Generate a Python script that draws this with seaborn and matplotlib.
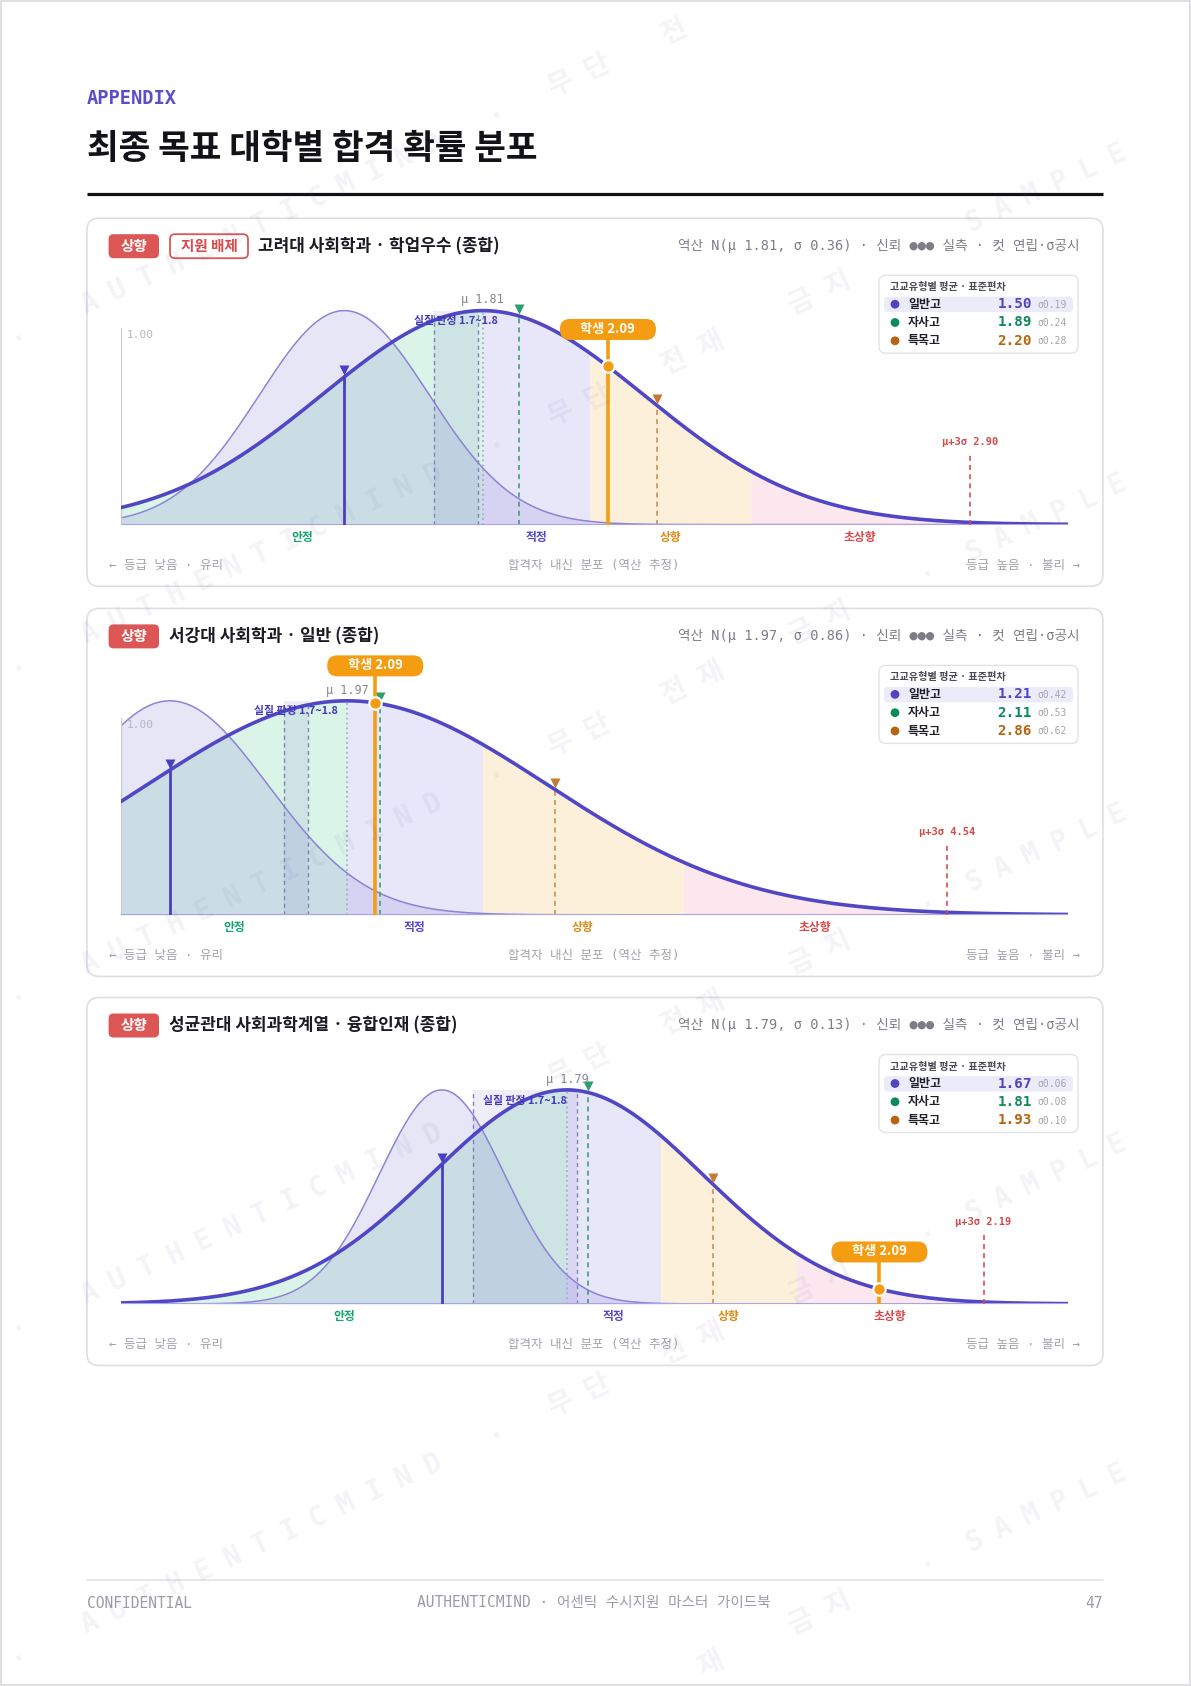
import numpy as np
import matplotlib
matplotlib.use("Agg")
import matplotlib.pyplot as plt
import seaborn as sns
from matplotlib.patches import FancyBboxPatch

sns.set_theme(style="white")
plt.rcParams["font.family"] = ["Noto Sans CJK KR", "DejaVu Sans"]
plt.rcParams["axes.unicode_minus"] = False
MONO = ["DejaVu Sans Mono", "Noto Sans CJK KR"]
SANS = ["Noto Sans CJK KR", "DejaVu Sans"]

# ---------------- data ----------------
programs = ["고려대 사회학과 · 학업우수 (종합)",
            "서강대 사회학과 · 일반 (종합)",
            "성균관대 사회과학계열 · 융합인재 (종합)"]
level_badge = ["상향", "상향", "상향"]
extra_badge = ["지원 배제", None, None]
mu = [1.81, 1.97, 1.79]
sigma = [0.36, 0.86, 0.13]
x_min = [1.00, 1.00, 1.362]
x_max = [3.12, 5.06, 2.271]
mu_3s = [2.90, 4.54, 2.19]
zone_edges = [[1.81, 2.05, 2.41], [1.97, 2.55, 3.41], [1.79, 1.88, 2.01]]
zone_names = ["안정", "적정", "상향", "초상향"]
type_names = ["일반고", "자사고", "특목고"]
type_means = [[1.50, 1.89, 2.20], [1.21, 2.11, 2.86], [1.67, 1.81, 1.93]]
type_sds = [[0.19, 0.24, 0.28], [0.42, 0.53, 0.62], [0.06, 0.08, 0.10]]
student = 2.09
band = [1.7, 1.8]

# ---------------- styles ----------------
zone_fill = ["#daf4e8", "#e8e6f9", "#fdf0da", "#fbe7ed"]
zone_txt = ["#12a36b", "#5146c6", "#d98a14", "#d94848"]
type_line = ["#4a3fc0", "#3d9f7b", "#d09055"]
type_mark = ["#4a3fc0", "#2e9e6e", "#c47a35"]
val_col = ["#4f45c2", "#0d8a5a", "#b8640f"]
MAIN = "#5046c6"
ORANGE = "#f49c12"

W, H = 1191, 1686
fig = plt.figure(figsize=(W / 100, H / 100), dpi=100)
fig.patch.set_facecolor("white")

bg = fig.add_axes([0, 0, 1, 1], zorder=0)
bg.set_xlim(0, W); bg.set_ylim(H, 0); bg.axis("off")
top = fig.add_axes([0, 0, 1, 1], zorder=5)
top.set_xlim(0, W); top.set_ylim(H, 0); top.axis("off"); top.patch.set_alpha(0)


def npdf(x, m, s):
    return np.exp(-0.5 * ((np.asarray(x) - m) / s) ** 2)


def to_px(ax, x, y):
    d = ax.transData.transform((x, y))
    return bg.transData.inverted().transform(d)


# page frame
bg.add_patch(plt.Rectangle((0.5, 0.5), W - 1.5, H - 2, fill=False, ec="#d9d9df", lw=1.2))

# header
bg.text(87, 99, "APPENDIX", fontsize=13.5, fontweight="bold", color="#5b4fc7",
        family=MONO, va="center", ha="left")
bg.text(87, 148, "최종 목표 대학별 합격 확률 분포", fontsize=24.8, fontweight="heavy",
        color="#121218", family=SANS, va="center", ha="left")
bg.plot([87, 1103], [193.5, 193.5], color="#111116", lw=2.3, solid_capstyle="butt")

card_top = [218.2, 608.4, 997.5]
CARD_H = 368
BASE = 306.4
PPU = 214.0
AX_TOP = 40.0
YTOP = (BASE - AX_TOP) / PPU

for i in range(3):
    T = card_top[i]
    m, s = mu[i], sigma[i]
    x0, x1 = x_min[i], x_max[i]

    # card
    bg.add_patch(FancyBboxPatch((87, T), 1016, CARD_H,
                                boxstyle="round,pad=0,rounding_size=12",
                                fc="white", ec="#dedee6", lw=1.2))
    # badges + title
    bg.add_patch(FancyBboxPatch((108.6, T + 16), 50.4, 24,
                                boxstyle="round,pad=0,rounding_size=5",
                                fc="#dc5656", ec="none"))
    bg.text(133.8, T + 27.5, level_badge[i], color="white", fontsize=10.5,
            fontweight="bold", family=SANS, ha="center", va="center")
    tx = 169
    if extra_badge[i]:
        bg.add_patch(FancyBboxPatch((170, T + 16), 78, 24,
                                    boxstyle="round,pad=0,rounding_size=5",
                                    fc="white", ec="#dc5656", lw=1.3))
        bg.text(209, T + 27.5, extra_badge[i], color="#d94a4a", fontsize=10.5,
                fontweight="bold", family=SANS, ha="center", va="center")
        tx = 258
    bg.text(tx, T + 28, programs[i], color="#1b1b24", fontsize=12.2,
            fontweight="bold", family=SANS, ha="left", va="center")
    bg.text(1080, T + 28,
            f"역산 N(μ {m:.2f}, σ {s:.2f}) · 신뢰 ●●● 실측 · 컷 연립·σ공시",
            color="#7d7d88", fontsize=9.8, family=MONO, ha="right", va="center")

    # legend box
    bg.add_patch(FancyBboxPatch((879, T + 57), 199, 78,
                                boxstyle="round,pad=0,rounding_size=7",
                                fc="white", ec="#e2e2ea", lw=1.0, zorder=3))
    bg.text(890, T + 69, "고교유형별 평균 · 표준편차", fontsize=7.3, fontweight="bold",
            color="#4a4a55", family=SANS, ha="left", va="center", zorder=4)
    bg.add_patch(FancyBboxPatch((884, T + 78.5), 189, 15.5,
                                boxstyle="round,pad=0,rounding_size=4",
                                fc="#ecebf9", ec="none", zorder=3))
    for j in range(3):
        yy = T + 86 + 18.3 * j
        bg.scatter([895], [yy], s=40, color=val_col[j], zorder=4, edgecolor="none")
        bg.text(908, yy, type_names[j], fontsize=8.6, fontweight="bold", color="#1f1f28",
                family=SANS, ha="left", va="center", zorder=4)
        bg.text(1032, yy, f"{type_means[i][j]:.2f}", fontsize=10.3, fontweight="bold",
                color=val_col[j], family=MONO, ha="right", va="center", zorder=4)
        bg.text(1037, yy + 0.5, f"σ{type_sds[i][j]:.2f}", fontsize=7, color="#a5a5ae",
                family=MONO, ha="left", va="center", zorder=4)

    # bottom captions
    bg.text(108.6, T + 347, "← 등급 낮음 · 유리", fontsize=9, color="#a2a2ac",
            family=MONO, ha="left", va="center")
    bg.text(594, T + 347, "합격자 내신 분포 (역산 추정)", fontsize=9, color="#a2a2ac",
            family=MONO, ha="center", va="center")
    bg.text(1080, T + 347, "등급 높음 · 불리 →", fontsize=9, color="#a2a2ac",
            family=MONO, ha="right", va="center")

    # ---------- plot axes ----------
    ax = fig.add_axes([121 / W, 1 - (T + BASE) / H, 947 / W, (BASE - AX_TOP) / H], zorder=2)
    ax.patch.set_alpha(0)
    ax.axis("off")
    ax.set_xlim(x0, x1)
    ax.set_ylim(0, YTOP)
    xs = np.linspace(x0, x1, 900)

    edges = [x0] + zone_edges[i] + [x1]
    for k in range(4):
        zx = np.linspace(edges[k], edges[k + 1], 300)
        ax.fill_between(zx, 0, npdf(zx, m, s), color=zone_fill[k], lw=0, zorder=1)
        b_end = edges[k + 1] if k < 3 else mu_3s[i]
        ax.text((edges[k] + b_end) / 2, -12.6 / PPU, zone_names[k], color=zone_txt[k],
                fontsize=8.5, fontweight="bold", family=SANS, ha="center", va="center",
                clip_on=False)

    # 실질 판정 band
    ax.fill_between(band, 0, 1.0, color="#7d75d0", alpha=0.13, lw=0, zorder=2)
    ax.vlines(band, 0, 1.0, colors="#7f86b5", linestyles=(0, (3, 2.5)), lw=1.0, zorder=4)

    # 일반고 distribution
    gm, gs = type_means[i][0], type_sds[i][0]
    gy = npdf(xs, gm, gs)
    ax.fill_between(xs, 0, gy, color="#8b84d6", alpha=0.2, lw=0, zorder=3)
    sns.lineplot(x=xs, y=gy, ax=ax, color="#8b84d6", lw=1.1, zorder=3)

    # mu dotted
    ax.vlines(m, 0, 1.0, colors="#a39ddb", linestyles=(0, (1.2, 2)), lw=1.1, zorder=4)

    # 1.00 reference
    if x0 <= 1.0:
        ax.vlines(1.0, 0, 0.92, colors="#cacad2", lw=1.6, zorder=4)
        ax.annotate("1.00", (1.0, 0.885), xytext=(4, 0), textcoords="offset points",
                    fontsize=8, color="#b5b5bd", family=MONO, ha="left", va="center")

    # main curve
    sns.lineplot(x=xs, y=npdf(xs, m, s), ax=ax, color=MAIN, lw=2.6, zorder=6)
    ax.axhline(0, color="#a9a4e2", lw=1.5, zorder=6)

    # school-type means
    for j in range(3):
        v = type_means[i][j]
        yv = float(npdf(v, m, s))
        if j == 0:
            ax.vlines(v, 0, yv, colors=type_line[j], lw=2.0, zorder=7)
        else:
            ax.vlines(v, 0, yv, colors=type_line[j], linestyles=(0, (3, 2.5)), lw=1.2, zorder=5)
        ax.plot([v], [yv + 0.03], marker="v", ms=7.5, color=type_mark[j], mec="none",
                zorder=8, clip_on=False)

    # labels
    ax.text(m, 1.05, f"μ {m:.2f}", fontsize=8.5, color="#85858f", family=MONO,
            ha="center", va="center", zorder=8)
    ax.text(sum(band) / 2, 0.95, f"실질 판정 {band[0]}~{band[1]}", fontsize=7.8,
            fontweight="bold", color="#4338b5", family=SANS, ha="center", va="center", zorder=8)

    # mu + 3 sigma
    ax.vlines(mu_3s[i], 0, 0.33, colors="#d94f4f", linestyles=(0, (3, 2.5)), lw=1.2, zorder=7)
    ax.text(mu_3s[i], 0.385, f"μ+3σ {mu_3s[i]:.2f}", fontsize=7.5, fontweight="bold",
            color="#d44b4b", family=MONO, ha="center", va="center", zorder=8)

    # student
    sy = float(npdf(student, m, s))
    ax.vlines(student, 0, sy + 27 / PPU, colors=ORANGE, lw=2.6, zorder=9)
    ax.scatter([student], [sy], s=80, color=ORANGE, edgecolor="white", linewidth=1.5,
               zorder=10, clip_on=False)
    px, py = to_px(ax, student, sy)
    top.add_patch(FancyBboxPatch((px - 48, py - 37 - 10.5), 96, 21,
                                 boxstyle="round,pad=0,rounding_size=10",
                                 fc=ORANGE, ec="none", zorder=2))
    top.text(px, py - 37.5, f"학생 {student:.2f}", fontsize=9.5, fontweight="bold",
             color="white", family=SANS, ha="center", va="center", zorder=3)

# footer
bg.plot([87, 1103], [1580, 1580], color="#e2e2e8", lw=1.2)
bg.text(87, 1603, "CONFIDENTIAL", fontsize=10.5, color="#9c9ca6", family=MONO,
        ha="left", va="center")
bg.text(594, 1603, "AUTHENTICMIND · 어센틱 수시지원 마스터 가이드북", fontsize=10.5,
        color="#9c9ca6", family=MONO, ha="center", va="center")
bg.text(1103, 1603, "47", fontsize=10.5, color="#9c9ca6", family=MONO,
        ha="right", va="center")

# watermark
ang = np.deg2rad(25)
ux, uy = np.cos(ang), -np.sin(ang)
wm_items = []
for k, ch in enumerate("AUTHENTICMIND"):
    wm_items.append((15 + 31.5 * k, ch, MONO))
for k, ch in enumerate("SAMPLE"):
    wm_items.append((991 + 31.5 * k, ch, MONO))
for d, ch in [(535, "무"), (575, "단"), (660, "전"), (700, "재"), (800, "금"), (840, "지")]:
    wm_items.append((d, ch, SANS))
for d in [-63, 465, 940, 1215]:
    wm_items.append((d, "·", MONO))
for y0 in [1960, 1630, 1300, 970, 640, 310, -20]:
    for d, ch, fam in wm_items:
        wx, wy = 76 + d * ux, y0 + d * uy
        if 18 < wx < W - 18 and 20 < wy < H - 20:
            top.text(wx, wy, ch, rotation=25, rotation_mode="anchor", ha="center",
                     va="center", fontsize=20, fontweight="bold", family=fam,
                     color="#5a5a9a", alpha=0.07, zorder=6)

fig.savefig("out.png", dpi=100, facecolor="white")
